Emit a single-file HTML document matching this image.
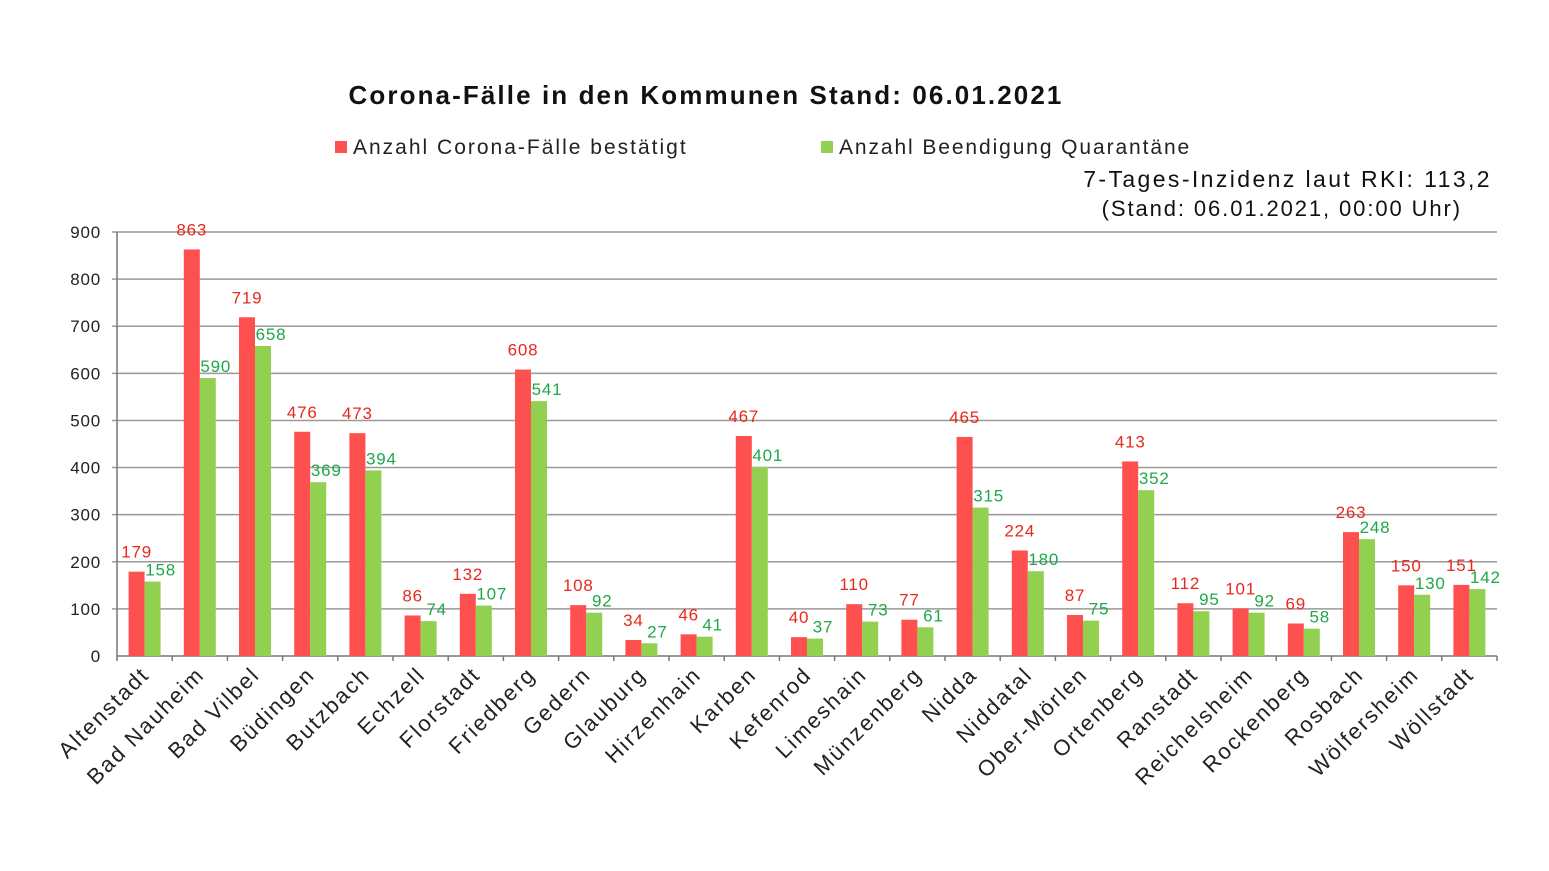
<!DOCTYPE html>
<html><head><meta charset="utf-8"><style>
html,body{margin:0;padding:0;background:#fff;}
svg{display:block;font-family:"Liberation Sans",sans-serif;}
</style></head><body>
<svg id="c" width="1549" height="871" xmlns="http://www.w3.org/2000/svg">
<rect width="1549" height="871" fill="#fff"/>
<text x="706" y="104" font-size="26" font-weight="bold" text-anchor="middle" fill="#111" letter-spacing="2.1">Corona-Fälle in den Kommunen Stand: 06.01.2021</text>
<rect x="335" y="141" width="12" height="12" fill="#FF5050"/>
<text x="353" y="154" font-size="21" fill="#222" letter-spacing="2">Anzahl Corona-Fälle bestätigt</text>
<rect x="821" y="141" width="12" height="12" fill="#92D050"/>
<text x="839" y="154" font-size="21" fill="#222" letter-spacing="1.9">Anzahl Beendigung Quarantäne</text>
<text x="1492" y="187" font-size="23" text-anchor="end" fill="#111" letter-spacing="2.4">7-Tages-Inzidenz laut RKI: 113,2</text>
<text x="1462" y="216" font-size="22" text-anchor="end" fill="#111" letter-spacing="1.9">(Stand: 06.01.2021, 00:00 Uhr)</text>
<g id="g"></g>
</svg>
<script>
var red=[179,863,719,476,473,86,132,608,108,34,46,467,40,110,77,465,224,87,413,112,101,69,263,150,151];
var grn=[158,590,658,369,394,74,107,541,92,27,41,401,37,73,61,315,180,75,352,95,92,58,248,130,142];
var names=["Altenstadt","Bad Nauheim","Bad Vilbel","Büdingen","Butzbach","Echzell","Florstadt","Friedberg","Gedern","Glauburg","Hirzenhain","Karben","Kefenrod","Limeshain","Münzenberg","Nidda","Niddatal","Ober-Mörlen","Ortenberg","Ranstadt","Reichelsheim","Rockenberg","Rosbach","Wölfersheim","Wöllstadt"];
var s="",x0=117,x1=1497,y0=656,k=(656-232)/900,w=(x1-x0)/25;
for(var i=0;i<=9;i++){var y=y0-i*100*k;
 s+='<line x1="'+(i==0?x0:x0-5)+'" x2="'+x1+'" y1="'+y+'" y2="'+y+'" stroke="'+(i==0?'#777':'#999')+'" stroke-width="1.5"/>';
 s+='<text x="101" y="'+(y+6)+'" font-size="17" text-anchor="end" fill="#222" letter-spacing="0.8">'+(i*100)+'</text>';}
s+='<line x1="'+x0+'" x2="'+x0+'" y1="232" y2="'+(y0+5)+'" stroke="#777" stroke-width="1.5"/>';
for(var i=0;i<25;i++){var c=x0+w*(i+0.5);
 s+='<line x1="'+(x0+w*(i+1))+'" x2="'+(x0+w*(i+1))+'" y1="'+y0+'" y2="'+(y0+5)+'" stroke="#777" stroke-width="1.5"/>';
 var hr=red[i]*k,hg=grn[i]*k;
 s+='<rect x="'+(c-16)+'" y="'+(y0-hr)+'" width="16" height="'+hr+'" fill="#FF5050"/>';
 s+='<rect x="'+c+'" y="'+(y0-hg)+'" width="16" height="'+hg+'" fill="#92D050"/>';
 s+='<text x="'+(c-8)+'" y="'+(y0-hr-14)+'" font-size="17" text-anchor="middle" fill="#E8281E" letter-spacing="0.8">'+red[i]+'</text>';
 s+='<text x="'+(c+16)+'" y="'+(y0-hg-6)+'" font-size="17" text-anchor="middle" fill="#1EA84A" letter-spacing="0.8">'+grn[i]+'</text>';
 s+='<text transform="translate('+(c+6)+',676) rotate(-45)" font-size="22" text-anchor="end" fill="#222" letter-spacing="2">'+names[i]+'</text>';}
document.getElementById("g").innerHTML=s;
</script>
</body></html>
